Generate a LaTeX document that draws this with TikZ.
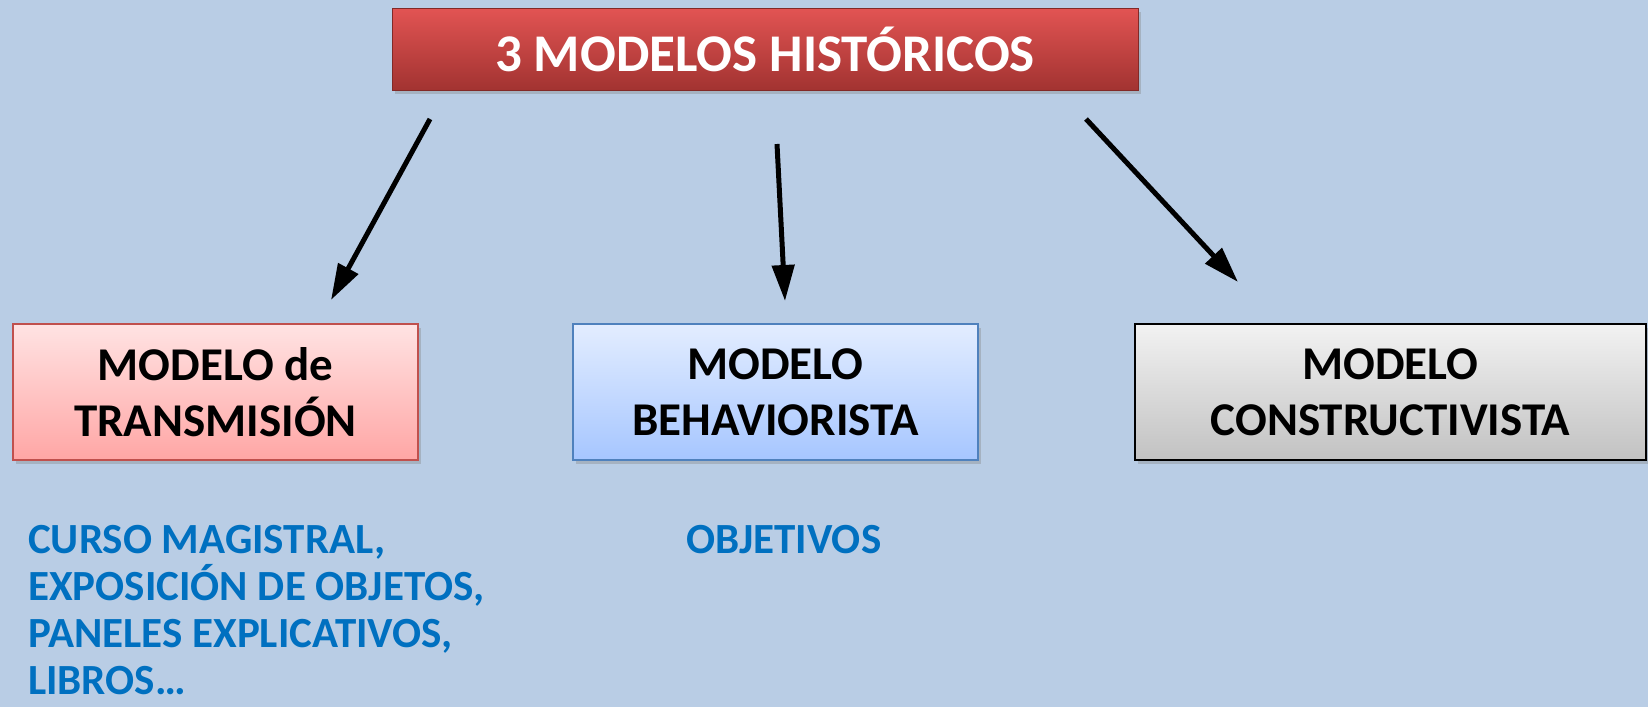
\documentclass[tikz,border=0pt]{standalone}
\usepackage{fontspec}
\setmainfont{Carlito}
\usetikzlibrary{arrows.meta,shadows}
\definecolor{bg}{HTML}{B9CDE5}
\definecolor{redtop}{HTML}{E25453}
\definecolor{redbot}{HTML}{A23331}
\definecolor{redline}{HTML}{C0504D}
\definecolor{pinktop}{HTML}{FFE3E3}
\definecolor{pinkbot}{HTML}{FFA6A5}
\definecolor{bluetop}{HTML}{E3EDFF}
\definecolor{bluebot}{HTML}{A6C6FF}
\definecolor{blueline}{HTML}{4F81BD}
\definecolor{greytop}{HTML}{F2F2F2}
\definecolor{greybot}{HTML}{C2C2C2}
\definecolor{bluetext}{HTML}{0070C0}
\tikzset{
  modelbox/.style={draw, line width=1.5pt, minimum width=405pt, minimum height=136pt,
    align=center, inner sep=0pt,
    font=\fontsize{47}{56}\selectfont\bfseries,
    drop shadow={shadow xshift=3pt, shadow yshift=-4pt, opacity=0.35}},
  titlebox/.style={draw=redbot!80!black, line width=0.8pt, minimum width=746pt, minimum height=82pt,
    top color=redtop, bottom color=redbot, text=white,
    font=\fontsize{53}{60}\selectfont\bfseries,
    drop shadow={shadow xshift=3pt, shadow yshift=-4pt, opacity=0.35}},
  bigarrow/.style={line width=5pt, -{Triangle[length=36pt,width=22pt]}},
  notes/.style={anchor=north west, inner sep=0pt, align=left, text=bluetext,
    font=\fontsize{43}{47}\selectfont\bfseries}
}
\begin{document}
\begin{tikzpicture}[x=1pt,y=-1pt]
\fill[bg] (0,0) rectangle (1648,707);
\useasboundingbox (0,0) rectangle (1648,707);

\node[titlebox] (title) at (765,49) {3 MODELOS HISTÓRICOS};

\node[modelbox, draw=redline, top color=pinktop, bottom color=pinkbot] (trans) at (215.5,392)
  {MODELO de\\TRANSMISIÓN};
\node[modelbox, draw=blueline, top color=bluetop, bottom color=bluebot] (behav) at (775.5,392)
  {MODELO\\BEHAVIORISTA};
\node[modelbox, draw=black, minimum width=511pt, top color=greytop, bottom color=greybot] (constr) at (1390.5,392)
  {MODELO\\CONSTRUCTIVISTA};

\coordinate (a1s) at (430,119);
\coordinate (a1e) at (331,300);
\coordinate (a2s) at (777,144);
\coordinate (a2e) at (785,301);
\coordinate (a3s) at (1086,119);
\coordinate (a3e) at (1238,282);

\draw[bigarrow] (a1s) -- (a1e);
\draw[bigarrow] (a2s) -- (a2e);
\draw[bigarrow] (a3s) -- (a3e);

\node[notes] (n1) at (28,525) {CURSO MAGISTRAL,\\EXPOSICIÓN DE OBJETOS,\\PANELES EXPLICATIVOS,\\LIBROS…};
\node[notes] (n2) at (686,525) {OBJETIVOS};
\end{tikzpicture}
\end{document}
